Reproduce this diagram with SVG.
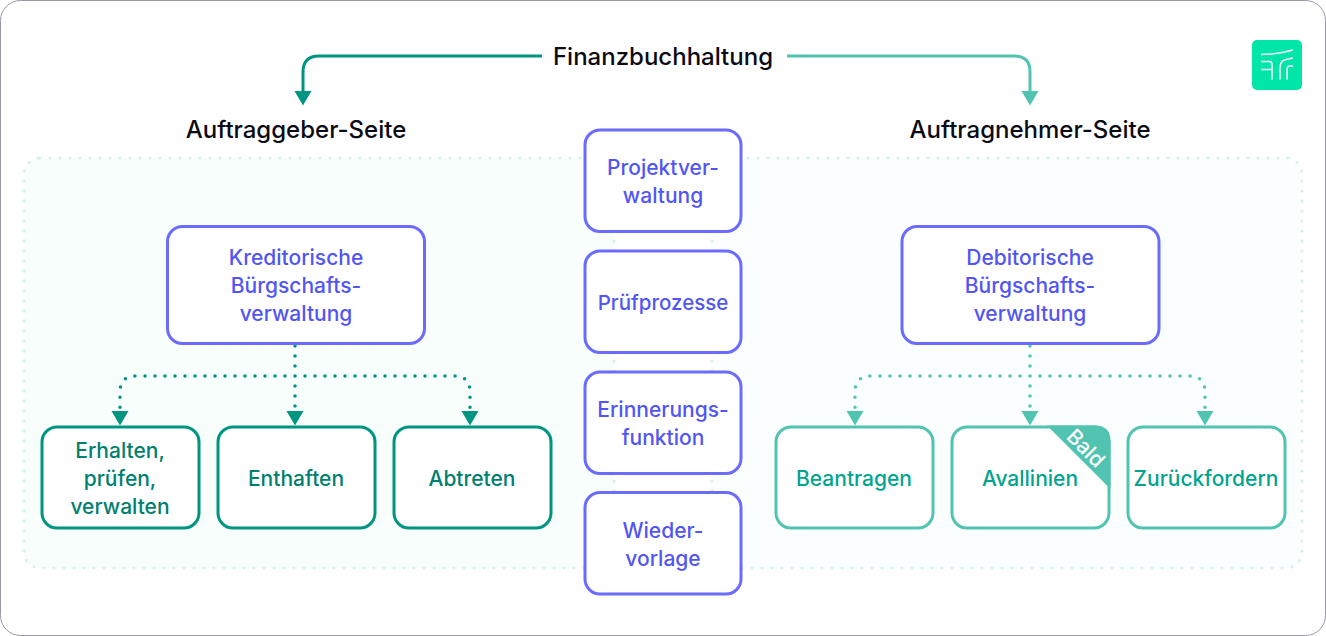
<svg xmlns="http://www.w3.org/2000/svg" width="1326" height="636" viewBox="0 0 1326 636">
<style>
text{font-family:"Inter","Liberation Sans",sans-serif;font-weight:500;text-anchor:middle;font-size:21px}
.head{fill:#0b0b16;font-size:24px}
.box{fill:#fff;stroke-width:3}
.p rect{stroke:#6b6bff}.p text{fill:#5155f5}
.g rect{stroke:#009580}.g text{fill:#007f6e}
.m rect{stroke:#50c4b0}.m text{fill:#00a490}
.zone{stroke:#d6f0ea;stroke-width:3.200;stroke-linecap:round;stroke-dasharray:0 10}
.line{fill:none;stroke-width:3}
.dot{fill:none;stroke-width:3.500;stroke-linecap:round;stroke-dasharray:0 10}
.dk{stroke:#009580}.lt{stroke:#50c4b0}
</style>
<rect x="0.5" y="0.5" width="1325" height="635" rx="20" fill="#fff" stroke="#9a98a8"/>
<g id="zones">
<rect class="zone" x="24" y="158" width="590" height="410" rx="16" fill="#f7fefc"/>
<rect class="zone" x="712" y="158" width="590" height="410" rx="16" fill="#fbfefe"/>
</g>
<g id="connectors">
<path class="line dk" d="M542 56H319Q303 56 303 72V92"/>
<path d="M294.500 91H311.500L303 105.500Z" fill="#009580"/>
<path class="line lt" d="M787 56H1014Q1030 56 1030 72V92"/>
<path d="M1021.500 91H1038.500L1030 105.500Z" fill="#50c4b0"/>
<path class="dot dk" d="M295 346V410M295 376H136Q120 376 120 392V410M295 376H454Q470 376 470 392V410"/>
<path d="M111.500 411H128.500L120 425.500ZM286.500 411H303.500L295 425.500ZM461.500 411H478.500L470 425.500Z" fill="#009580"/>
<path class="dot lt" d="M1030 346V410M1030 376H871Q855 376 855 392V410M1030 376H1189Q1205 376 1205 392V410"/>
<path d="M846.500 411H863.500L855 425.500ZM1021.500 411H1038.500L1030 425.500ZM1196.500 411H1213.500L1205 425.500Z" fill="#50c4b0"/>
</g>
<g id="title"><text class="head" x="663" y="65">Finanzbuchhaltung</text></g>
<g id="side-client"><text class="head" x="296" y="138">Auftraggeber-Seite</text></g>
<g id="side-contractor"><text class="head" x="1030" y="138">Auftragnehmer-Seite</text></g>
<g id="logo">
<rect x="1252" y="40" width="50" height="50" rx="5" fill="#00e5a8"/>
<path d="M1261 54.500Q1278 54.500 1293 50M1261 61.500H1269Q1272 61.500 1272 64.500V79.500M1261 69.500H1272M1280 79.500V68Q1280 60.500 1286 59.500L1293 58M1287 79.500V70Q1287 66 1290 66H1293" fill="none" stroke="#fff" stroke-width="1.500"/>
</g>
<g id="projektverwaltung" class="p"><rect class="box" x="585" y="130" width="156" height="101.500" rx="15"/><text x="663" y="175">Projektver-</text><text x="663" y="203">waltung</text></g>
<g id="pruefprozesse" class="p"><rect class="box" x="585" y="251" width="156" height="101.500" rx="15"/><text x="663" y="310" style="font-size:20.500px">Prüfprozesse</text></g>
<g id="erinnerungsfunktion" class="p"><rect class="box" x="585" y="372" width="156" height="101.500" rx="15"/><text x="663" y="417">Erinnerungs-</text><text x="663" y="445">funktion</text></g>
<g id="wiedervorlage" class="p"><rect class="box" x="585" y="492.500" width="156" height="101.500" rx="15"/><text x="663" y="538">Wieder-</text><text x="663" y="566">vorlage</text></g>
<g id="kreditorisch" class="p"><rect class="box" x="167.500" y="226.500" width="257" height="117" rx="15"/><text x="296" y="265">Kreditorische</text><text x="296" y="293">Bürgschafts-</text><text x="296" y="321">verwaltung</text></g>
<g id="debitorisch" class="p"><rect class="box" x="902" y="226.500" width="257" height="117" rx="15"/><text x="1030" y="265">Debitorische</text><text x="1030" y="293">Bürgschafts-</text><text x="1030" y="321">verwaltung</text></g>
<g id="erhalten" class="g"><rect class="box" x="42" y="427" width="157" height="101" rx="15"/><text x="120" y="458">Erhalten,</text><text x="120" y="486">prüfen,</text><text x="120" y="514">verwalten</text></g>
<g id="enthaften" class="g"><rect class="box" x="218" y="427" width="157" height="101" rx="15"/><text x="296" y="486">Enthaften</text></g>
<g id="abtreten" class="g"><rect class="box" x="394" y="427" width="157" height="101" rx="15"/><text x="472" y="486">Abtreten</text></g>
<g id="beantragen" class="m"><rect class="box" x="776" y="427" width="157" height="101" rx="15"/><text x="854" y="486">Beantragen</text></g>
<g id="avallinien" class="m"><rect class="box" x="952" y="427" width="157" height="101" rx="15"/><path d="M1047 425.500H1095Q1110.500 425.500 1110.500 441V489Z" fill="#50c4b0"/><text x="1030" y="486">Avallinien</text><text x="1086" y="455.500" transform="rotate(45 1086 448)" style="fill:#fff;font-size:21px">Bald</text></g>
<g id="zurueckfordern" class="m"><rect class="box" x="1128" y="427" width="157" height="101" rx="15"/><text x="1206" y="486">Zurückfordern</text></g>
</svg>
